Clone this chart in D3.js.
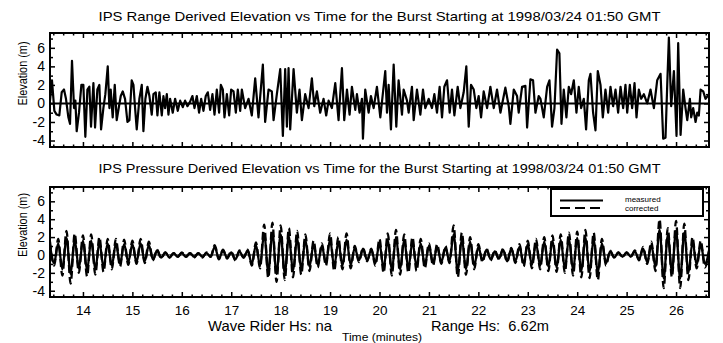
<!DOCTYPE html>
<html><head><meta charset="utf-8">
<script src="https://cdn.jsdelivr.net/npm/d3@7"></script>
<style>
html,body{margin:0;padding:0;background:#fff;}
text{font-family:"Liberation Sans",Arial,Helvetica,sans-serif;fill:#000;}
</style></head>
<body><svg id="c" width="723" height="343"></svg>
<script>
// ---------------- DATA ----------------
const burstStartMin = 13.3333;      // minutes
const burstEndMin = 26.6667;
const xTickMajor = [14,15,16,17,18,19,20,21,22,23,24,25,26];
const yTickMajor = [-4,-2,0,2,4,6];
const titleTop = "IPS Range Derived Elevation vs Time for the Burst Starting at 1998/03/24 01:50 GMT";
const titleBottom = "IPS Pressure Derived Elevation vs Time for the Burst Starting at 1998/03/24 01:50 GMT";
const yLabel = "Elevation (m)";
const xLabel = "Time (minutes)";
const waveRiderText = "Wave Rider Hs: na";
const rangeHsText = "Range Hs:  6.62m";
const legendLabels = ["measured","corrected"];

// range-derived elevation: seconds from burst start, elevation (m)
const rangeSec = [0,2.4,5.3,8.1,11.3,14.2,17,19.4,22.3,24.3,26.7,29.2,30.8,32.4,35.2,38.1,40.5,42.9,45.4,47.8,49.8,52.7,54.7,57.5,59.9,62,64.8,67.2,70.1,72.1,73.7,76.1,78.6,81,83.4,85.9,88.3,91.1,94,96.4,99.2,101.3,103.3,105.3,108.5,111.4,113.4,115.8,118.3,120.7,123.5,125.6,128.4,130.4,132.8,135.7,137.7,139.7,141.8,143.8,145.8,149,151.9,155.1,158,161.2,164,166.9,170.1,172.9,175.4,178.2,181,183.5,186.3,189.1,191.6,194.4,197.2,199.7,202.5,205.3,207.4,209.8,211.8,214.7,217.5,219.9,222.8,225.6,228,230.9,232.9,236.9,241,245,249.1,253.1,258.4,261.2,265.3,269.3,271.4,275.4,279.5,282.7,285.5,287.6,289.6,291.6,295.7,299.7,302.9,305.8,309.8,313.9,317.9,320.8,324,328,332.1,335.3,338.2,342.2,346.3,350.3,354.4,357.2,360.5,363.7,366.5,370.6,372.6,375.8,378.7,379.9,382.7,386.8,389.6,392.9,396.9,401,407,409.1,411.1,413.9,417.2,420.4,423.2,427.3,429.3,433.4,435.4,439.4,441.5,445.5,449.6,452.8,455.6,459.7,463.7,466.6,469.8,473,475.9,478.7,482,485.2,488,490.9,494.9,498.2,502.2,505.4,508.3,511.1,514.4,517.6,520.4,523.3,526.5,530.6,534.6,538.7,542.7,546.8,552.8,556.9,558.9,563,567,569,573.1,577.1,579.2,583.2,586.4,589.3,593.3,595.4,599.4,603.5,606.3,609.5,612.4,615.6,618.4,620.9,623.7,626.9,629.8,632.6,635.9,639.1,641.9,644.8,648,650.8,654.1,656.1,659.3,662.2,665,668.3,671.1,674.3,677.6,680.4,683.6,686.5,689.7,692.6,695.8,698.6,700.7,703.9,706.7,709.6,712,714.8,717.7,720.9,725,729,733.1,737.1,741.2,744.4,747.2,749.3,751.3,754.1,757.4,760.6,762.6,765.5,768.7,771.5,773.6,776.8,778.4,780.8,783.7,785.7,787.7,789.8,793,795.8,800];
const rangeElev = [0.3,2.5,-0.8,-1.2,-1.3,1.2,1.5,0.5,-1.5,-2.2,4.6,-0.5,0.3,-3.0,-1.0,2.0,2.0,-3.6,1.5,1.8,-2.5,2.2,-2.6,1.5,2.0,-2.8,-0.5,1.0,4.0,-0.5,1.5,-1.5,2.0,-1.8,-0.5,0.8,1.3,0.5,-2.0,-1.8,2.5,2.0,-0.5,-2.8,0.5,2.0,-3.0,0.5,1.8,0.8,-1.2,1.0,1.2,-1.3,1.2,-1.3,0.8,-0.5,1.0,-1.2,0.5,-1.0,0.5,-0.8,0.3,-0.4,0.3,-0.3,0.2,0.8,-0.5,0.8,-1.0,0.5,-0.8,0.8,1.2,-0.7,1.0,-1.2,1.5,-1.0,2.0,1.5,-1.5,1.0,-1.3,1.5,1.3,-1.0,1.5,-0.8,1.5,-0.5,0.5,-1.3,2.7,-1.5,4.2,-2.0,1.5,1.3,-1.8,1.0,3.7,-3.5,3.7,-2.5,3.8,-2.8,3.7,-1.0,1.5,-1.8,1.0,-0.5,2.7,-0.3,1.3,-1.0,0.5,-1.3,0.3,-0.5,2.2,-1.8,3.8,-1.8,1.5,-1.2,1.8,-0.7,1.0,-1.0,0.5,-3.8,1.5,-1.0,0.8,-0.5,1.8,-1.5,3.5,-1.0,2.0,-2.8,4.2,-2.5,2.5,-1.2,1.5,0.3,-1.0,1.8,-1.8,1.5,-1.2,1.5,-0.5,0.5,-0.5,1.0,-1.0,1.8,-1.5,1.8,2.5,-1.0,1.5,-1.3,1.8,-0.5,1.2,4.0,-2.5,2.0,1.5,-0.5,0.8,-1.5,1.3,-0.5,1.8,-0.5,1.5,-1.0,1.7,-0.3,-2.2,1.5,0.8,-1.0,1.8,1.9,-2.6,2.6,2.5,-1.0,0.8,0.5,-1.5,1.8,2.5,-2.5,-0.5,5.8,5.4,-2.2,1.5,-1.5,1.8,1.0,2.5,-1.0,1.8,-0.5,0.5,-2.8,2.5,3.2,-1.0,-2.9,3.5,2.0,-1.5,1.5,-1.0,1.8,-0.3,1.5,-1.0,1.8,-0.5,2.0,-1.0,2.0,-0.5,2.2,-1.5,1.5,0.5,1.0,0.0,1.5,-0.5,2.5,3.2,-3.8,-3.7,2.0,7.1,-0.3,3.5,-3.5,6.5,-3.4,1.5,-0.5,-1.8,0.5,-1.5,-0.5,-2.0,-1.0,-1.3,1.5,1.3,0.5,1.0];

// pressure-derived elevation, one value every 5 s from burst start (crests/troughs)
const pressureStepSec = 5;
const pressureMeasured = [1.1,-0.9,1.3,-1.6,1.9,-2.1,1.7,-1.5,1.6,-1.7,
 1.6,-1.6,1.4,-1.4,1.3,-1.2,1.3,-1.0,1.2,-0.8,
 1.2,-0.8,1.3,-0.7,1.1,-0.5,0.5,-0.3,0.3,-0.3,
 0.2,-0.2,0.2,-0.2,0.2,-0.2,0.2,-0.2,0.2,-0.2,
 0.9,-0.4,0.5,-0.3,0.3,-0.5,0.4,-0.3,0.5,-1.0,
 1.1,-1.2,2.4,-1.9,2.5,-2.1,2.3,-2.0,2.1,-1.8,
 1.9,-1.6,1.7,-1.3,1.2,-1.1,1.0,-0.9,1.7,-1.3,
 1.5,-1.2,1.7,-1.1,0.8,-0.6,0.7,-0.6,0.6,-0.9,
 1.3,-1.5,1.7,-1.7,2.0,-1.6,1.7,-1.5,1.5,-1.3,
 1.3,-1.1,1.0,-0.9,0.9,-0.8,0.8,-0.7,2.3,-1.8,
 1.8,-1.6,1.5,-1.2,0.9,-0.6,0.6,-0.5,0.4,-0.4,
 0.6,-0.7,0.7,-0.7,0.9,-1.0,1.2,-1.1,1.3,-1.2,
 1.5,-1.3,1.6,-1.4,1.7,-1.5,1.8,-1.7,1.9,-1.8,
 2.0,-1.9,1.8,-2.0,1.3,-0.9,0.4,-0.3,0.3,-0.2,
 0.3,-0.2,0.4,-0.5,0.7,-0.8,1.1,-1.3,2.8,-2.6,
 2.2,-1.8,2.7,-2.6,2.5,-2.0,1.5,-1.1,1.2,-1.0,
 0.4];
const pressureCorrected = [1.5,-1.2,1.8,-2.3,2.7,-3.2,2.4,-2.0,2.2,-2.4,
 2.3,-2.2,2.0,-1.9,1.8,-1.6,1.8,-1.3,1.7,-1.1,
 1.6,-1.0,1.8,-0.9,1.5,-0.6,0.6,-0.4,0.3,-0.3,
 0.2,-0.2,0.3,-0.2,0.2,-0.3,0.2,-0.3,0.3,-0.2,
 1.1,-0.5,0.6,-0.4,0.4,-0.6,0.5,-0.3,0.6,-1.2,
 1.4,-1.5,3.4,-2.6,3.6,-3.0,3.3,-2.8,3.0,-2.5,
 2.7,-2.2,2.3,-1.8,1.6,-1.4,1.3,-1.2,2.4,-1.8,
 2.0,-1.6,2.4,-1.5,1.0,-0.8,0.8,-0.7,0.7,-1.2,
 1.8,-2.0,2.4,-2.3,2.8,-2.2,2.3,-2.0,2.0,-1.8,
 1.8,-1.5,1.3,-1.2,1.2,-1.0,1.0,-0.9,3.3,-2.5,
 2.5,-2.2,2.0,-1.6,1.2,-0.8,0.7,-0.6,0.5,-0.5,
 0.7,-0.8,0.8,-0.9,1.2,-1.3,1.6,-1.5,1.8,-1.6,
 2.0,-1.8,2.2,-1.9,2.3,-2.0,2.5,-2.3,2.6,-2.5,
 2.8,-2.6,2.5,-2.8,1.8,-1.2,0.5,-0.3,0.3,-0.3,
 0.3,-0.2,0.5,-0.6,0.9,-1.0,1.5,-1.8,4.0,-3.7,
 3.0,-2.5,3.8,-3.7,3.5,-2.8,2.0,-1.5,1.6,-1.4,
 0.5];

// ---------------- CHART ----------------
const svg = d3.select("#c");
svg.append("rect").attr("width",723).attr("height",343).attr("fill","#fff");

const x = d3.scaleLinear().domain([burstStartMin, burstEndMin]).range([50, 709]);
const yDomain = [-4.7, 7.6];
const panels = [
  {top:33, bottom:147, title:titleTop, titleY:21, labelY:73.5, zeroW:2},
  {top:187, bottom:297, title:titleBottom, titleY:172.5, labelY:225, zeroW:1}
];
panels.forEach((p,k)=>{ p.y = d3.scaleLinear().domain(yDomain).range([p.bottom, p.top]); });

const xMinor = d3.range(67, 134).map(d => d/5).filter(d => d > burstStartMin && d < burstEndMin && !Number.isInteger(d));
const yMinor = d3.range(-4, 8).filter(d => d % 2 !== 0);

panels.forEach((p,k)=>{
  const g = svg.append("g");
  const clipId = "clip"+k;
  svg.append("clipPath").attr("id",clipId).append("rect")
    .attr("x",50).attr("y",p.top).attr("width",659).attr("height",p.bottom-p.top);

  // zero line
  g.append("line").attr("x1",50).attr("x2",709).attr("y1",p.y(0)).attr("y2",p.y(0))
    .attr("stroke","#000").attr("stroke-width",p.zeroW);

  const data = g.append("g").attr("clip-path","url(#"+clipId+")");
  if(k===0){
    const pts = rangeSec.map((s,i)=>[burstStartMin + s/60, rangeElev[i]]);
    data.append("path").datum(pts)
      .attr("d", d3.line().x(d=>x(d[0])).y(d=>p.y(d[1])))
      .attr("fill","none").attr("stroke","#000").attr("stroke-width",2.2).attr("stroke-linejoin","round");
  } else {
    const ln = d3.line().x(d=>x(d[0])).y(d=>p.y(d[1])).curve(d3.curveMonotoneX);
    const ptsM = pressureMeasured.map((v,i)=>[burstStartMin + i*pressureStepSec/60, v]);
    const ptsC = pressureCorrected.map((v,i)=>[burstStartMin + i*pressureStepSec/60, v]);
    data.append("path").datum(ptsC).attr("d",ln)
      .attr("fill","none").attr("stroke","#000").attr("stroke-width",2.3).attr("stroke-dasharray","8,4");
    data.append("path").datum(ptsM).attr("d",ln)
      .attr("fill","none").attr("stroke","#000").attr("stroke-width",2.3);
  }

  // axes (ticks inside)
  const style = (fs) => sel => { sel.select(".domain").remove(); sel.selectAll("line").attr("stroke-width",1.5); sel.selectAll("text").style("font-size",fs).style("font-family",'"Liberation Sans",Arial,sans-serif'); };
  const bottomAx = d3.axisBottom(x).tickValues(xTickMajor).tickSize(-5).tickPadding(8)
      .tickFormat(k===1 ? (d=>String(d)) : (()=>""));
  g.append("g").attr("transform",`translate(0,${p.bottom})`).call(bottomAx).call(style("13.5px"));
  g.append("g").attr("transform",`translate(0,${p.bottom})`).call(d3.axisBottom(x).tickValues(xMinor).tickSize(-2.5).tickFormat(()=>"")).call(style("14px"));
  g.append("g").attr("transform",`translate(0,${p.top})`).call(d3.axisTop(x).tickValues(xTickMajor).tickSize(-5).tickFormat(()=>"")).call(style("14px"));
  g.append("g").attr("transform",`translate(0,${p.top})`).call(d3.axisTop(x).tickValues(xMinor).tickSize(-2.5).tickFormat(()=>"")).call(style("14px"));

  g.append("g").attr("transform","translate(50,0)").call(d3.axisLeft(p.y).tickValues(yTickMajor).tickSize(-5).tickPadding(5).tickFormat(d=>String(d))).call(style("14px"));
  g.append("g").attr("transform","translate(50,0)").call(d3.axisLeft(p.y).tickValues(yMinor).tickSize(-3).tickFormat(()=>"")).call(style("14px"));
  g.append("g").attr("transform","translate(709,0)").call(d3.axisRight(p.y).tickValues(yTickMajor).tickSize(-5).tickFormat(()=>"")).call(style("14px"));
  g.append("g").attr("transform","translate(709,0)").call(d3.axisRight(p.y).tickValues(yMinor).tickSize(-3).tickFormat(()=>"")).call(style("14px"));

  // frame
  g.append("rect").attr("x",50).attr("y",p.top).attr("width",659).attr("height",p.bottom-p.top)
    .attr("fill","none").attr("stroke","#000").attr("stroke-width",2);

  // title
  svg.append("text").attr("x",379.5).attr("y",p.titleY).attr("text-anchor","middle")
    .style("font-size","13px").attr("textLength",562).attr("lengthAdjust","spacingAndGlyphs").text(p.title);
  // y label
  svg.append("text").attr("transform",`translate(27,${p.labelY}) rotate(-90)`).attr("text-anchor","middle")
    .style("font-size","13.5px").attr("textLength",64).attr("lengthAdjust","spacingAndGlyphs").text(yLabel);
});

// legend in lower panel
const lg = svg.append("g");
lg.append("rect").attr("x",551).attr("y",189).attr("width",152).attr("height",27)
  .attr("fill","#fff").attr("stroke","#000").attr("stroke-width",2);
lg.append("line").attr("x1",560).attr("x2",603).attr("y1",200.5).attr("y2",200.5).attr("stroke","#000").attr("stroke-width",2);
lg.append("line").attr("x1",560).attr("x2",603).attr("y1",208).attr("y2",208).attr("stroke","#000").attr("stroke-width",2).attr("stroke-dasharray","10,5");
legendLabels.forEach((t,i)=>{
  lg.append("text").attr("x",625).attr("y",202+i*9).style("font-size","8px").text(t);
});

// bottom texts
svg.append("text").attr("x",208).attr("y",331).style("font-size","14.5px")
  .attr("textLength",124).attr("lengthAdjust","spacingAndGlyphs").text(waveRiderText);
svg.append("text").attr("x",431).attr("y",331).style("font-size","14.5px").style("white-space","pre")
  .attr("textLength",118).attr("lengthAdjust","spacingAndGlyphs").text(rangeHsText);
svg.append("text").attr("x",382).attr("y",341).attr("text-anchor","middle").style("font-size","11px")
  .attr("textLength",80).attr("lengthAdjust","spacingAndGlyphs").text(xLabel);
</script></body></html>
